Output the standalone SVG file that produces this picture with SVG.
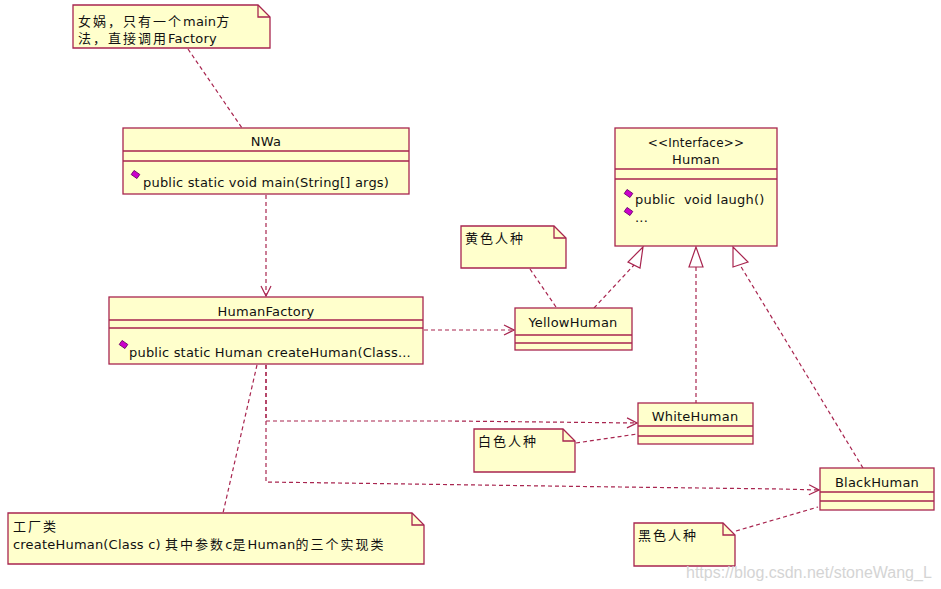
<svg xmlns="http://www.w3.org/2000/svg" width="941" height="589" viewBox="0 0 941 589">
<defs>
<style>
.box{fill:#FFFFCC;stroke:#A8254F;stroke-width:1.3}
.sep{stroke:#A8254F;stroke-width:1.3;fill:none}
.note{fill:#FFFFCC;stroke:#A8254F;stroke-width:1.3}
.fold{fill:none;stroke:#A8254F;stroke-width:1.3}
.t{font-family:"DejaVu Sans","Noto Sans CJK SC",sans-serif;font-size:13px;fill:#111;letter-spacing:0.2px}
.cj{letter-spacing:2px}
.c{text-anchor:middle}
.dash{fill:none;stroke:#A8254F;stroke-width:1.2;stroke-dasharray:4,3}
.tri{fill:#FFFFFF;stroke:#A8254F;stroke-width:1.2}
.ico{fill:#CC00CC;stroke:#660066;stroke-width:0.8}
</style>
<marker id="open" markerWidth="12" markerHeight="12" refX="11" refY="6" orient="auto" markerUnits="userSpaceOnUse">
<path d="M1,1 L11,6 L1,11" fill="none" stroke="#A8254F" stroke-width="1.2"/>
</marker>
</defs>
<rect width="941" height="589" fill="#FFFFFF"/>

<g id="connectors">
<path class="dash" d="M188,49 L242,128"/>
<path class="dash" d="M266,195 L266,296" marker-end="url(#open)"/>
<path class="dash" d="M424,330 L514,330" marker-end="url(#open)"/>
<path class="dash" d="M266,365 L266,421 L450,421 L637,423" marker-end="url(#open)"/>
<path class="dash" d="M266,365 L266,482 L620,487 L780,489 L819,490" marker-end="url(#open)"/>
<path class="dash" d="M257,365 L223,513"/>
<path class="dash" d="M530,269 L556,307"/>
<path class="dash" d="M576,443 L637,434"/>
<path class="dash" d="M736,531 L818,507"/>
<path class="dash" d="M594,308 L634,265"/>
<polygon class="tri" points="643,247 628,262 640,268"/>
<path class="dash" d="M696,267 L696,403"/>
<polygon class="tri" points="696,247 689,267 703,267"/>
<path class="dash" d="M863,468 L740,265"/>
<polygon class="tri" points="733,247 733,267 748,262"/>
</g>

<g id="note-nuwa">
<path class="note" d="M73,5 H258 L270,17 V48 H73 Z"/>
<path class="fold" d="M258,5 V17 H270"/>
<text class="t" x="78" y="26"><tspan class="cj">女娲，只有一个</tspan>main<tspan class="cj">方</tspan></text>
<text class="t" x="78" y="43"><tspan class="cj">法，直接调用</tspan>Factory</text>
</g>

<g id="NWa">
<rect class="box" x="123" y="128" width="286" height="66"/>
<path class="sep" d="M123,151 H409 M123,161 H409"/>
<text class="t c" x="266" y="146">NWa</text>
<rect class="ico" x="132" y="172" width="7" height="5" transform="rotate(35 135.5 174.5)"/>
<text class="t" x="143" y="187">public static void main(String[] args)</text>
</g>

<g id="HumanFactory">
<rect class="box" x="109" y="297" width="314" height="67"/>
<path class="sep" d="M109,320 H423 M109,328 H423"/>
<text class="t c" x="266" y="316">HumanFactory</text>
<rect class="ico" x="120" y="342" width="7" height="5" transform="rotate(35 123.5 344.5)"/>
<text class="t" x="129" y="357">public static Human createHuman(Class...</text>
</g>

<g id="Human">
<rect class="box" x="615" y="128" width="162" height="118"/>
<path class="sep" d="M615,169 H777 M615,179 H777"/>
<text class="t c" x="696" y="147" style="font-size:12px">&lt;&lt;Interface&gt;&gt;</text>
<text class="t c" x="696" y="164">Human</text>
<rect class="ico" x="625" y="191" width="7" height="5" transform="rotate(35 628.5 193.5)"/>
<text class="t" x="635" y="204" xml:space="preserve">public  void laugh()</text>
<rect class="ico" x="625" y="209" width="7" height="5" transform="rotate(35 628.5 211.5)"/>
<text class="t" x="635" y="222">...</text>
</g>

<g id="note-yellow">
<path class="note" d="M461,226 H554 L566,238 V268 H461 Z"/>
<path class="fold" d="M554,226 V238 H566"/>
<text class="t cj" x="465" y="243">黄色人种</text>
</g>

<g id="YellowHuman">
<rect class="box" x="515" y="308" width="117" height="42"/>
<path class="sep" d="M515,335 H632 M515,343 H632"/>
<text class="t c" x="573" y="327">YellowHuman</text>
</g>

<g id="WhiteHuman">
<rect class="box" x="638" y="403" width="115" height="41"/>
<path class="sep" d="M638,426 H753 M638,436 H753"/>
<text class="t c" x="695" y="421">WhiteHuman</text>
</g>

<g id="note-white">
<path class="note" d="M474,429 H563 L575,441 V472 H474 Z"/>
<path class="fold" d="M563,429 V441 H575"/>
<text class="t cj" x="478" y="446">白色人种</text>
</g>

<g id="BlackHuman">
<rect class="box" x="820" y="468" width="114" height="42"/>
<path class="sep" d="M820,492 H934 M820,501 H934"/>
<text class="t c" x="877" y="487">BlackHuman</text>
</g>

<g id="note-black">
<path class="note" d="M634,523 H723 L735,535 V566 H634 Z"/>
<path class="fold" d="M723,523 V535 H735"/>
<text class="t cj" x="638" y="540">黑色人种</text>
</g>

<g id="note-factory">
<path class="note" d="M8,513 H412 L424,525 V564 H8 Z"/>
<path class="fold" d="M412,513 V525 H424"/>
<text class="t cj" x="13" y="531">工厂类</text>
<text class="t" x="13" y="549" xml:space="preserve">createHuman(Class c) <tspan class="cj">其中参数</tspan>c<tspan class="cj">是</tspan>Human<tspan class="cj">的三个实现类</tspan></text>
</g>

<text x="686" y="578" style="font-family:'Liberation Sans',sans-serif;font-size:16px;fill:#D4D4D4">https://blog.csdn.net/stoneWang_L</text>
</svg>
